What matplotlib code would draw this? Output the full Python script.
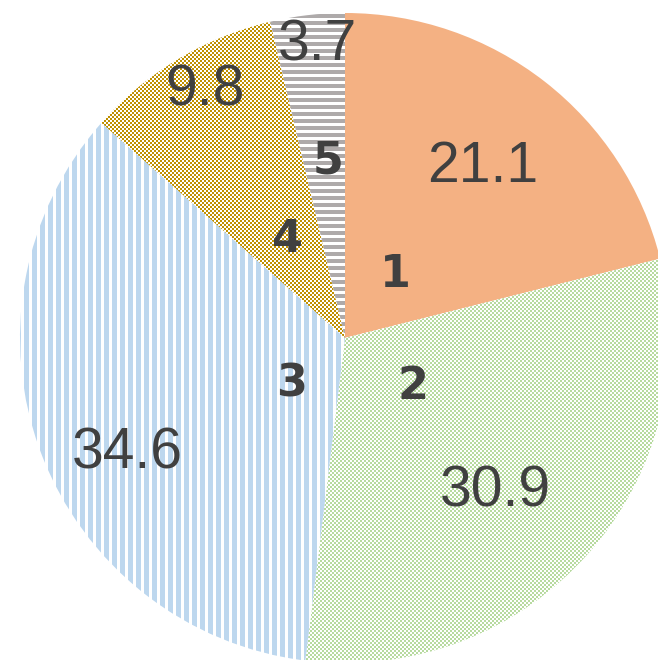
import numpy as np
import matplotlib.pyplot as plt
from matplotlib.colors import to_rgb

# data
categories = ["1", "2", "3", "4", "5"]
values = [21.1, 30.9, 34.6, 9.8, 3.7]
value_labels = ["21.1", "30.9", "34.6", "9.8", "3.7"]

# styling
COLORS = ["#F4B183", "#B7DA9F", "#BDD7EE", "#BF9000", "#AEAAAA"]
PATTERNS = ["solid", "checker", "vstripe", "checker", "hstripe"]
VALUE_POS = [(0.69, 0.0), (0.65, -3.0), (0.75, 6.0), (0.89, -2.0), (0.92, -1.4)]
CAT_POS = [(0.26, 1.0), (0.25, 7.7), (0.21, 17.4), (0.36, -1.4), (0.56, -1.2)]
TEXT_COLOR = "#404040"
VAL_SIZE, CAT_SIZE = 41, 32

W, H = 658, 660
CENTER = (345, H - 338)
RADIUS = 325


def texture(kind, color):
    yy, xx = np.mgrid[0:H, 0:W]
    if kind == "checker":
        mask = ((xx // 2) + (yy // 2)) % 2 == 0
    elif kind == "vstripe":
        mask = (xx % 8) < 5
    elif kind == "hstripe":
        mask = (yy % 7) < 4
    else:
        mask = np.ones((H, W), bool)
    img = np.ones((H, W, 3))
    img[mask] = to_rgb(color)
    return img


def main() -> None:
    fig = plt.figure(figsize=(W / 100, H / 100), dpi=100)
    ax = fig.add_axes([0, 0, 1, 1])

    face = [c if p == "solid" else "white" for c, p in zip(COLORS, PATTERNS)]
    wedges, _ = ax.pie(values, startangle=90, counterclock=False, center=CENTER,
                       radius=RADIUS, colors=face, frame=True,
                       wedgeprops=dict(linewidth=0, antialiased=True))
    ax.set_xlim(0, W)
    ax.set_ylim(0, H)
    ax.set_aspect("equal")
    ax.axis("off")

    for w, kind, color in zip(wedges, PATTERNS, COLORS):
        if kind == "solid":
            continue
        im = ax.imshow(texture(kind, color), extent=(0, W, 0, H), origin="upper",
                       interpolation="nearest", zorder=w.get_zorder() + 0.1)
        im.set_clip_path(w)

    # baseline offsets so that digit glyphs are centred on their anchor
    val_drop = 0.716 * VAL_SIZE * 100 / 72 / 2
    cat_drop = 0.729 * CAT_SIZE * 100 / 72 / 2
    for w, cat, val, vp, cp in zip(wedges, categories, value_labels, VALUE_POS, CAT_POS):
        mid = 0.5 * (w.theta1 + w.theta2)
        a = np.deg2rad(mid + vp[1])
        ax.text(CENTER[0] + vp[0] * RADIUS * np.cos(a),
                CENTER[1] + vp[0] * RADIUS * np.sin(a) - val_drop,
                val, ha="center", va="baseline", fontsize=VAL_SIZE, color=TEXT_COLOR,
                family=["Liberation Sans", "DejaVu Sans"], zorder=10)
        a = np.deg2rad(mid + cp[1])
        ax.text(CENTER[0] + cp[0] * RADIUS * np.cos(a),
                CENTER[1] + cp[0] * RADIUS * np.sin(a) - cat_drop,
                cat, ha="center", va="baseline", fontsize=CAT_SIZE, fontweight="bold",
                color=TEXT_COLOR, family=["DejaVu Sans"], zorder=10)

    fig.savefig("out.png", dpi=100)


if __name__ == "__main__":
    main()
